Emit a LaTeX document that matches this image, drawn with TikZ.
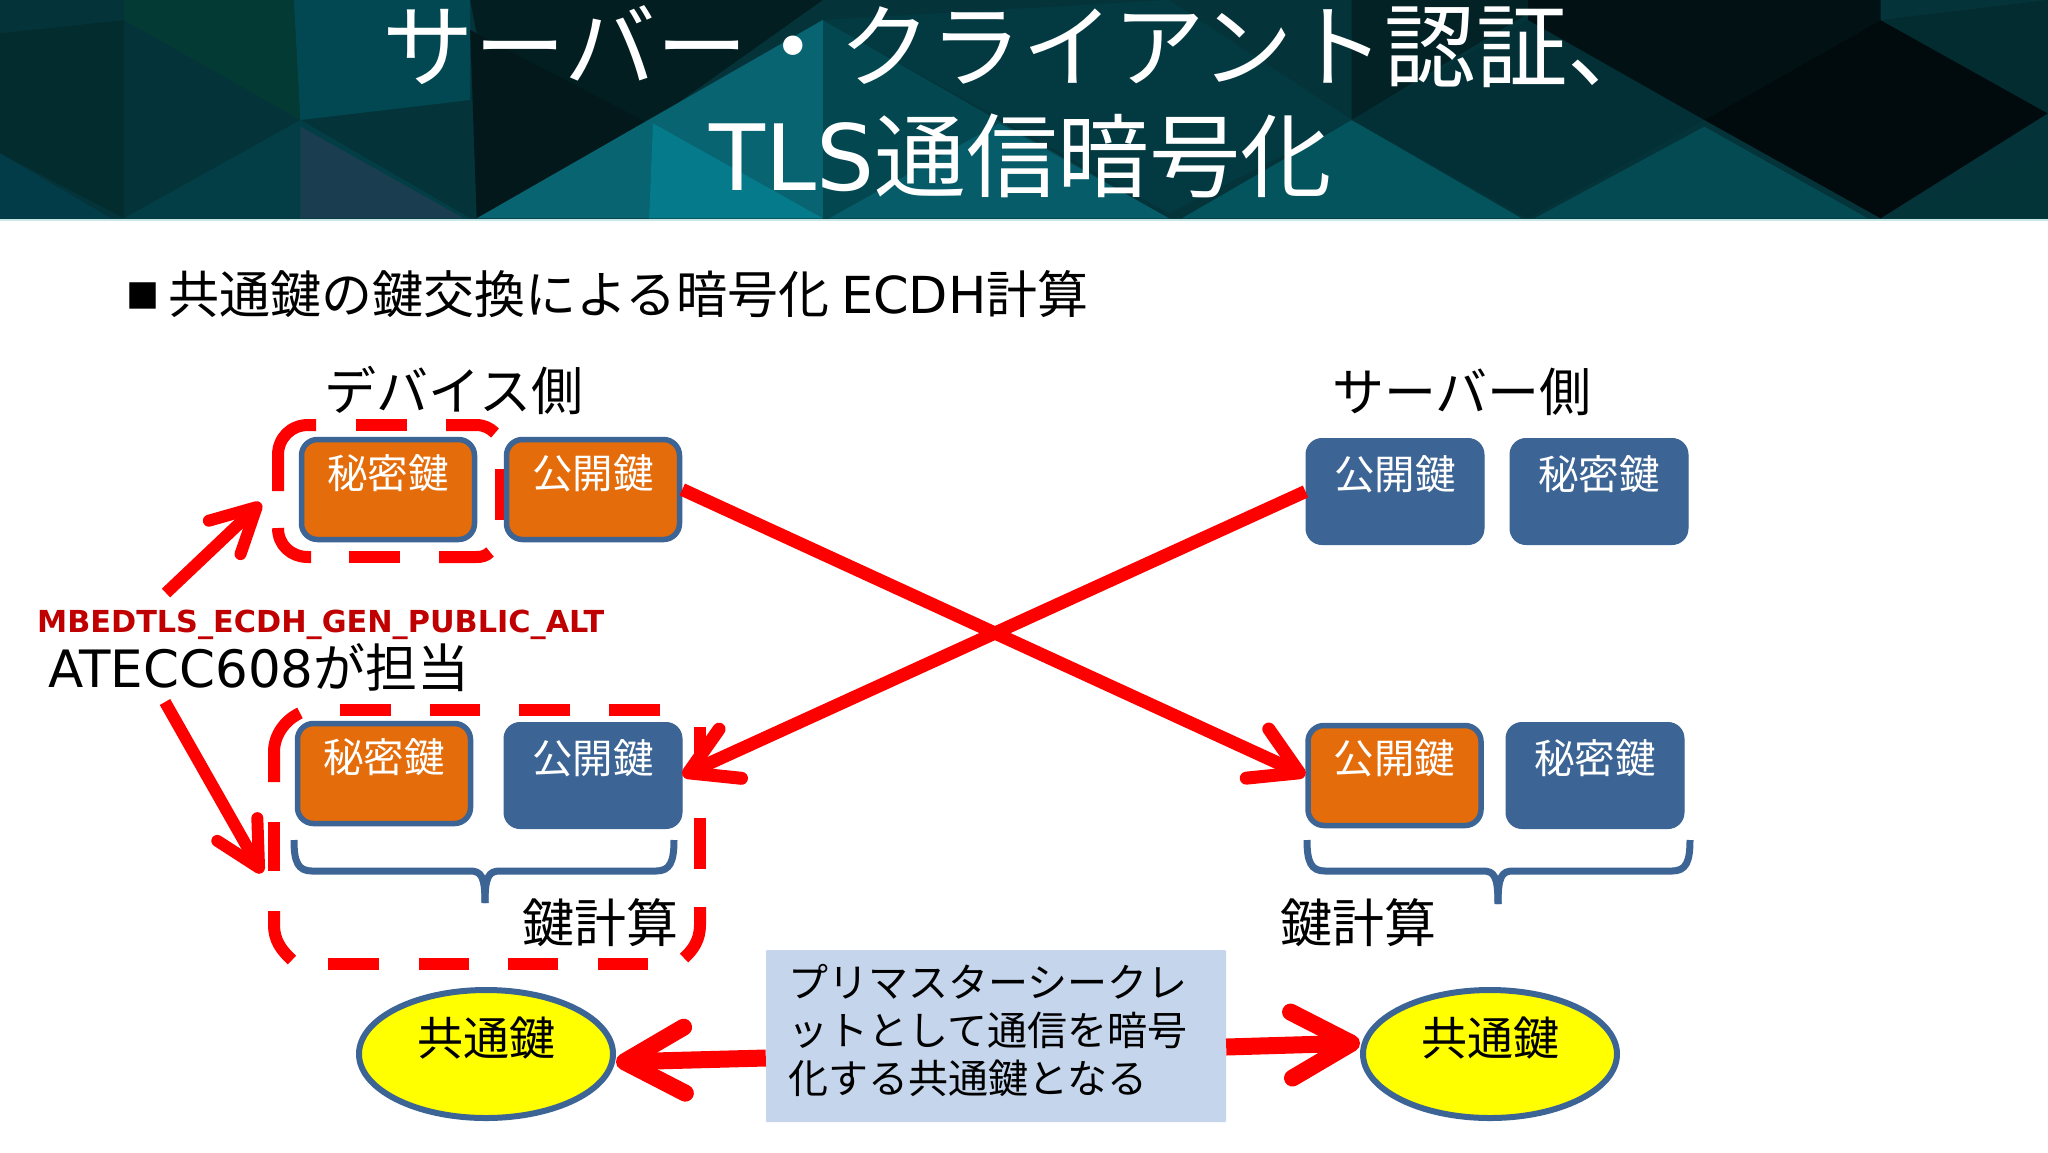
\documentclass[tikz,border=0pt]{standalone}
\usepackage{fontspec}
\setmainfont{Noto Sans CJK JP}
\newfontfamily\lat{DejaVu Sans}
\usetikzlibrary{arrows.meta,shapes.geometric}
\definecolor{keyblue}{HTML}{3C6494}
\definecolor{keyorange}{HTML}{E46C0A}
\definecolor{noteblue}{HTML}{C5D6EC}
\definecolor{darkred}{HTML}{C00000}
\definecolor{keyyellow}{HTML}{FFFF00}
\definecolor{purered}{HTML}{FF0000}
\newcommand{\fs}[1]{\fontsize{#1pt}{#1pt}\selectfont}
\newcommand{\uptext}[2]{\raisebox{#1pt}[0pt][0pt]{#2}}
\tikzset{
  bluebox/.style={rectangle,rounded corners=16pt,fill=keyblue,draw=keyblue,line width=1pt,minimum width=178pt,minimum height=106pt,inner sep=0pt,text=white,font=\fs{40.5}},
  orangebox/.style={bluebox,fill=keyorange,line width=5.5pt,minimum width=173pt,minimum height=100pt},
  bigline/.style={draw=purered,line width=13pt,-{Straight Barb[length=46pt,width=54pt,round]}},
  sideline/.style={draw=purered,line width=12pt,-{Straight Barb[length=44pt,width=46pt,round]}},
  fatline/.style={draw=purered,line width=17pt,-{Straight Barb[length=60pt,width=66pt,round]}},
  dashpiece/.style={draw=purered,line width=12pt},
  brace/.style={draw=keyblue,line width=7pt},
  common/.style={ellipse,fill=keyyellow,draw=keyblue,line width=6pt,minimum width=254pt,minimum height=128pt,inner sep=0pt,font=\fs{46}},
  heading/.style={font=\fs{52},inner sep=0pt,text=black}
}
\begin{document}
\begin{tikzpicture}[x=1pt,y=-1pt]
\useasboundingbox (0,0) rectangle (2048,1152);
\fill[white] (0,0) rectangle (2048,1152);
% banner
\fill[fill={rgb,255:red,4;green,52;blue,58}] (0,0) rectangle (2048,219);
\begin{scope}[x=1.306pt,y=-0.3333pt]
\fill[fill={rgb,255:red,3;green,58;blue,52}] (95,0)--(360,0)--(230,360)--(95,60)--cycle;
\fill[fill={rgb,255:red,2;green,72;blue,82}] (225,0)--(360,0)--(360,300)--(230,360)--cycle;
\fill[fill={rgb,255:red,3;green,44;blue,46}] (0,100)--(95,60)--(95,655)--(0,460)--cycle;
\fill[fill={rgb,255:red,2;green,60;blue,72}] (0,460)--(85,655)--(0,655)--cycle;
\fill[fill={rgb,255:red,3;green,62;blue,70}] (95,655)--(230,360)--(360,655)--cycle;
\fill[fill={rgb,255:red,26;green,62;blue,80}] (230,380)--(355,655)--(230,655)--cycle;
\fill[fill={rgb,255:red,3;green,30;blue,33}] (360,0)--(630,0)--(497,370)--(365,100)--cycle;
\fill[fill={rgb,255:red,2;green,24;blue,26}] (360,90)--(497,370)--(365,655)--cycle;
\fill[fill={rgb,255:red,3;green,72;blue,80}] (630,60)--(895,655)--(630,655)--cycle;
\fill[fill={rgb,255:red,8;green,100;blue,112}] (630,60)--(365,655)--(630,655)--cycle;
\fill[fill={rgb,255:red,5;green,122;blue,138}] (500,370)--(630,655)--(497,655)--cycle;
\fill[fill={rgb,255:red,6;green,92;blue,104}] (765,370)--(895,655)--(635,655)--cycle;
\fill[fill={rgb,255:red,3;green,58;blue,66}] (630,60)--(895,0)--(1035,360)--(895,640)--cycle;
\fill[fill={rgb,255:red,2;green,34;blue,38}] (1035,0)--(1170,0)--(1170,40)--(1035,360)--cycle;
\fill[fill={rgb,255:red,4;green,84;blue,94}] (1035,360)--(1165,655)--(905,655)--cycle;
\fill[fill={rgb,255:red,2;green,48;blue,54}] (1170,60)--(1305,360)--(1170,655)--(1035,360)--cycle;
\fill[fill={rgb,255:red,2;green,18;blue,20}] (1170,0)--(1440,0)--(1440,60)--(1305,360)--(1170,60)--cycle;
\fill[fill={rgb,255:red,3;green,74;blue,82}] (1305,380)--(1430,655)--(1175,655)--cycle;
\fill[fill={rgb,255:red,1;green,10;blue,12}] (1305,360)--(1440,60)--(1568,340)--(1440,655)--cycle;
\fill[fill={rgb,255:red,3;green,44;blue,48}] (1440,60)--(1568,0)--(1568,340)--cycle;
\fill[fill={rgb,255:red,3;green,52;blue,56}] (1568,460)--(1568,655)--(1445,655)--cycle;
\end{scope}
\fill[fill={rgb,255:red,200;green,232;blue,232}] (0,219) rectangle (2048,221);
\node[text=white,font=\fontsize{91.5pt}{110pt}\selectfont,align=center,inner sep=0pt] (title) at (1021,102) {サーバー・クライアント認証、\\{\lat TLS}通信暗号化};
% headings
\node[heading,font=\fs{51},anchor=west] (head) at (126,294) {\raisebox{5pt}{\fs{33}■}\hspace{9pt}共通鍵の鍵交換による暗号化 {\lat ECDH}計算};
\node[heading] (devside) at (454,390) {デバイス側};
\node[heading] (srvside) at (1462,392) {サーバー側};
% dashed frame, device key
\draw[dashpiece] (278,491)--(278,455) .. controls (278,438) and (291,425) .. (308,425)--(316,425);
\draw[dashpiece] (356,425)--(407,425);
\draw[dashpiece] (446,425)--(476,425) .. controls (484,425) and (490,428) .. (495,433);
\draw[dashpiece] (501,469)--(501,520);
\draw[dashpiece] (490,552) .. controls (486,556) and (482,557) .. (476,557)--(439,557);
\draw[dashpiece] (400,557)--(349,557);
\draw[dashpiece] (311,557)--(308,557) .. controls (291,557) and (278,545) .. (278,528);
% dashed frame, computation
\draw[dashpiece] (274,782)--(274,752) .. controls (274,735) and (285,720) .. (300,713);
\foreach \a/\b in {340/391,430/480,519/570,609/660}{\draw[dashpiece] (\a,710)--(\b,710);}
\draw[dashpiece] (700,727)--(700,778);
\draw[dashpiece] (700,818)--(700,869);
\draw[dashpiece] (700,907)--(700,925) .. controls (700,940) and (693,950) .. (684,958);
\foreach \a/\b in {648/598,558/508,469/419,379/328}{\draw[dashpiece] (\a,964)--(\b,964);}
\draw[dashpiece] (274,911)--(274,925) .. controls (274,940) and (281,950) .. (292,960);
\draw[dashpiece] (274,871)--(274,822);
% key boxes
\node[orangebox] (devsec) at (388,489.5) {\uptext{1.5}{秘密鍵}};
\node[orangebox] (devpub) at (593,489.5) {\uptext{1.5}{公開鍵}};
\node[bluebox] (srvpub) at (1395,491.5) {\uptext{2}{公開鍵}};
\node[bluebox] (srvsec) at (1599,491.5) {\uptext{2}{秘密鍵}};
\node[orangebox] (calcsec) at (384,773.5) {\uptext{1.5}{秘密鍵}};
\node[bluebox] (calcpub) at (593,775.5) {\uptext{2}{公開鍵}};
\node[orangebox] (rcalcpub) at (1394.5,775.5) {\uptext{2}{公開鍵}};
\node[bluebox] (rcalcsec) at (1595,775.5) {\uptext{2}{秘密鍵}};
% braces
\draw[brace] (294,840) .. controls (294,862) and (298,871) .. (312,871) -- (470,871) .. controls (481,871) and (485,876) .. (485,903);
\draw[brace] (485,903) .. controls (485,876) and (489,871) .. (500,871) -- (656,871) .. controls (670,871) and (674,862) .. (674,840);
\draw[brace] (1307,840) .. controls (1307,862) and (1311,871) .. (1325,871) -- (1483,871) .. controls (1494,871) and (1498,876) .. (1498,904);
\draw[brace] (1498,904) .. controls (1498,876) and (1502,871) .. (1513,871) -- (1672,871) .. controls (1686,871) and (1690,862) .. (1690,840);
\node[heading] (calcL) at (600,923) {鍵計算};
\node[heading] (calcR) at (1358,923) {鍵計算};
% labels left
\node[font=\lat\bfseries\fontsize{30.3pt}{30pt}\selectfont,text=darkred,inner sep=0pt,anchor=west] (mbed) at (37,625) {MBEDTLS\_ECDH\_GEN\_PUBLIC\_ALT};
\node[font=\fs{52},inner sep=0pt,anchor=west] (atecc) at (48,668) {{\lat\fs{51.5}ATECC608}が担当};
\coordinate (upstart) at (166,593);
\coordinate (uptip) at (261,503);
\coordinate (downstart) at (165,702);
\coordinate (downtip) at (262,873);
\draw[sideline] (upstart) -- (uptip);
\draw[sideline] (downstart) -- (downtip);
% crossing arrows
\draw[bigline] (devpub.east) -- (rcalcpub.west);
\draw[bigline] (srvpub.west) -- (calcpub.east);
% bottom row
\node[common] (keyL) at (486,1054) {\uptext{-1}{共通鍵}};
\node[common] (keyR) at (1490,1054) {\uptext{-1}{共通鍵}};
\node[fill=noteblue,minimum width=460pt,minimum height=172pt,inner sep=0pt,rounded corners=1pt] (note) at (996,1036) {};
\node[font=\fontsize{40pt}{48pt}\selectfont,align=left,anchor=west,inner sep=0pt] (notetext) at (788,1030) {プリマスターシークレ\\ットとして通信を暗号\\化する共通鍵となる};
\draw[fatline] (note.west |- 0,1058) -- (keyL.east |- 0,1062);
\draw[fatline] (note.east |- 0,1047) -- (keyR.west |- 0,1043);
\end{tikzpicture}
\end{document}
